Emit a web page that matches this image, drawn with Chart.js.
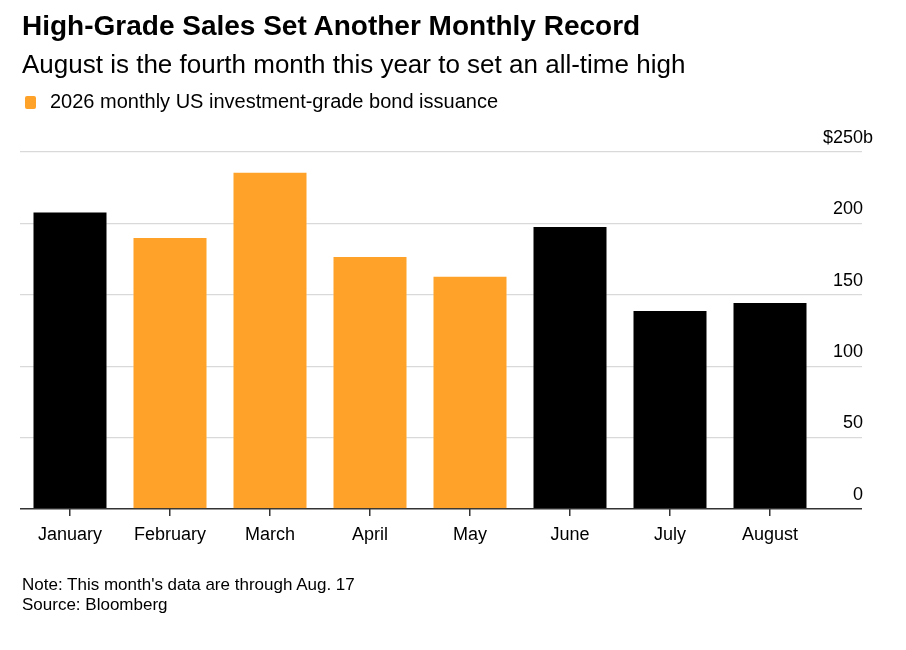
<!DOCTYPE html>
<html>
<head>
<meta charset="utf-8">
<script src="https://cdn.jsdelivr.net/npm/chart.js@4"></script>
<style>
  body { margin:0; background:#fff; font-family:"Liberation Sans", Arial, sans-serif; color:#000; }
  #wrap { position:relative; width:906px; height:650px; }
  #chart { position:absolute; left:0; top:0; }
  .t { position:absolute; left:22px; white-space:nowrap; line-height:1; }
  #title { top:12px; font-size:28px; font-weight:bold; }
  #sub { top:51px; font-size:26px; }
  #legend { top:91px; font-size:20px; left:25px; }
  #legend i { display:inline-block; width:11px; height:13px; background:#ffa22a; border-radius:2px; margin-right:14px; vertical-align:-1px; }
  #note { top:575px; font-size:17px; line-height:20px; }
</style>
</head>
<body>
<div id="wrap">
  <canvas id="chart" width="906" height="650"></canvas>
  <div class="t" id="title">High-Grade Sales Set Another Monthly Record</div>
  <div class="t" id="sub">August is the fourth month this year to set an all-time high</div>
  <div class="t" id="legend"><i></i>2026 monthly US investment-grade bond issuance</div>
  <div class="t" id="note">Note: This month's data are through Aug. 17<br>Source: Bloomberg</div>
</div>
<script>
// values, $ billions
const months = ['January','February','March','April','May','June','July','August'];
const issuance = [208.3, 190.5, 236.1, 177.2, 163.4, 198.2, 139.4, 145.0];
const inLegend = [false, true, true, true, true, false, false, false];
const yTicks = [0, 50, 100, 150, 200, 250];
const yTickLabels = ['0', '50', '100', '150', '200', '$250b'];

const ORANGE = '#ffa22a';
const FONT = '"Liberation Sans", Arial, sans-serif';

new Chart(document.getElementById('chart'), {
  type: 'bar',
  data: {
    labels: months,
    datasets: [{
      data: issuance,
      backgroundColor: inLegend.map(o => o ? ORANGE : '#000'),
      borderColor: 'rgba(255,255,255,0.35)',
      borderWidth: 1,
      barPercentage: 0.75,
      categoryPercentage: 1
    }]
  },
  options: {
    responsive: false,
    animation: false,
    layout: { padding: { top: 152, left: 20, right: 33, bottom: 96.5 } },
    plugins: { legend: { display: false }, tooltip: { enabled: false } },
    scales: {
      x: {
        border: { display: false },
        grid: { display: true, drawOnChartArea: false, offset: false, tickLength: 7, color: '#333', lineWidth: 1.5 },
        ticks: { color: '#000', padding: 8, font: { family: FONT, size: 18 } }
      },
      y: {
        position: 'right',
        min: 0, max: 250,
        afterBuildTicks: s => { s.ticks = yTicks.map(v => ({ value: v })); },
        // 42px of grid tick past the plot, labels right-aligned to the axis edge
        afterFit: s => { s.width = 53; },
        border: { display: false },
        grid: {
          tickLength: 42,
          color: c => c.tick && c.tick.value === 0 ? '#333' : '#d9d9d9',
          lineWidth: c => c.tick && c.tick.value === 0 ? 1.5 : 1.2
        },
        ticks: {
          color: '#000',
          crossAlign: 'far',
          labelOffset: -14,
          font: { family: FONT, size: 18 },
          // two spaces stand in for the "b" so the numbers line up
          callback: (v, i) => yTickLabels[i] + (i < yTickLabels.length - 1 ? '  ' : '')
        }
      }
    }
  }
});
</script>
</body>
</html>
